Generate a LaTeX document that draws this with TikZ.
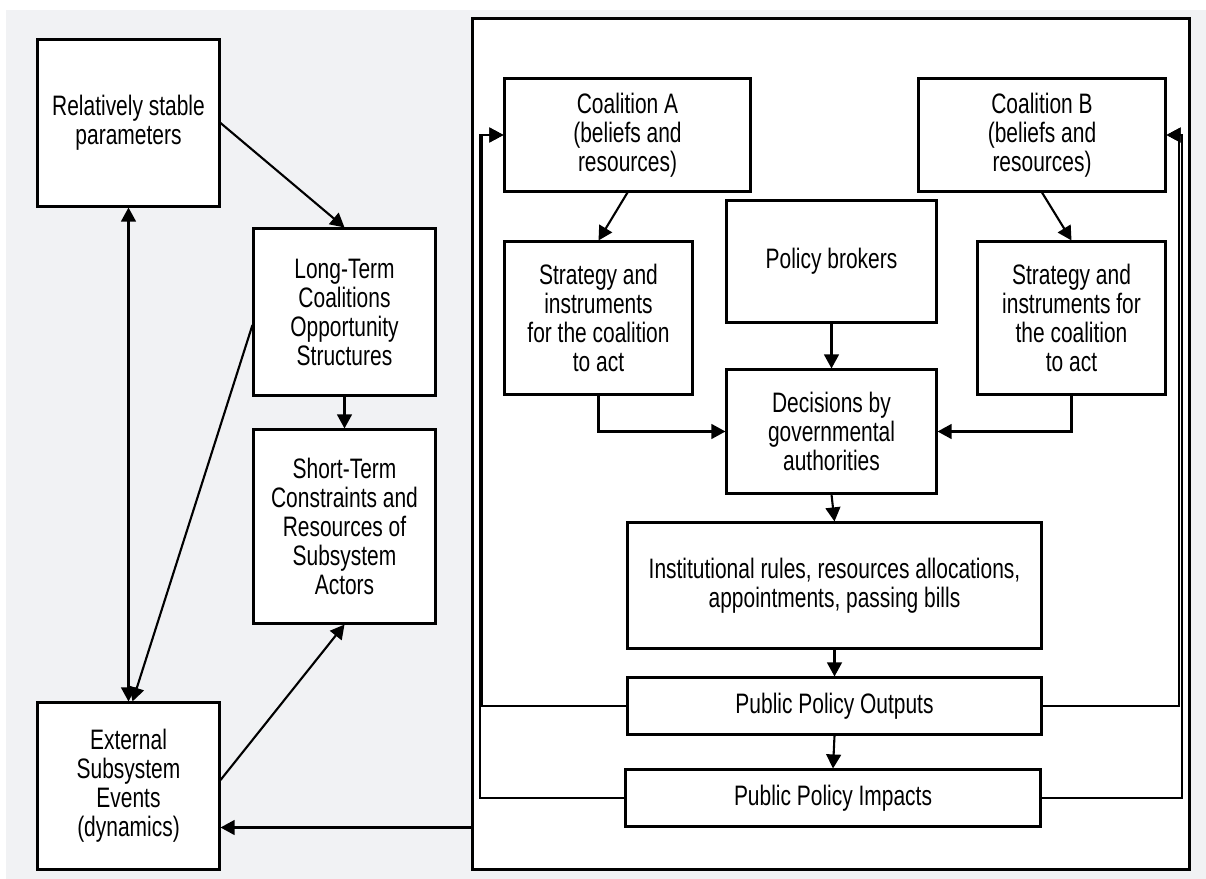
\documentclass[tikz,border=0pt]{standalone}
\usepackage{fontspec}
\setmainfont{Liberation Sans}[FakeStretch=0.745]
\definecolor{panelgray}{RGB}{241,242,244}
\usetikzlibrary{arrows.meta}
\usetikzlibrary{calc}

\begin{document}
\begin{tikzpicture}[x=0.01cm, y=-0.01cm]
  \tikzset{
    box/.style = {draw, line width=.85pt, fill=white, align=center, inner sep=0pt, font=\fontsize{8}{8.25}\selectfont},
    arr/.style = {-{Triangle[length=4pt,width=4.2pt]}, line width=.6pt},
    arrboth/.style = {{Triangle[length=4pt,width=4.2pt]}-{Triangle[length=4pt,width=4.2pt]}, line width=.6pt},
    fbarr/.style = {-{Triangle[length=4pt,width=4.2pt]}, line width=.45pt}
  }

  \useasboundingbox (0,0) rectangle (1206,879);
  \fill[panelgray] (6,10) rectangle (1206,879);

  \node[box, minimum width=1.81cm, minimum height=1.66cm] (stable) at (128.5,123) {Relatively stable\\parameters};
  \node[box, minimum width=1.81cm, minimum height=1.66cm] (longterm) at (344.5,312) {Long-Term\\Coalitions\\Opportunity\\Structures};
  \node[box, minimum width=1.81cm, minimum height=1.93cm] (shortterm) at (344.5,526.5) {Short-Term\\Constraints and\\Resources of\\Subsystem\\Actors};
  \node[box, minimum width=1.81cm, minimum height=1.66cm] (external) at (128.5,786) {External\\Subsystem\\Events\\(dynamics)};

  \node[box, minimum width=7.16cm, minimum height=8.5cm] (subsys) at (831,444) {};

  \node[box, minimum width=2.45cm, minimum height=1.12cm] (coalA) at (627.5,135) {Coalition A\\(beliefs and\\resources)};
  \node[box, minimum width=2.46cm, minimum height=1.12cm] (coalB) at (1042,135) {Coalition B\\(beliefs and\\resources)};
  \node[box, minimum width=1.87cm, minimum height=1.52cm] (stratA) at (598.5,318) {Strategy and\\instruments\\for the coalition\\to act};
  \node[box, minimum width=2.09cm, minimum height=1.21cm] (brokers) at (831.5,261.5) {Policy brokers};
  \node[box, minimum width=1.87cm, minimum height=1.52cm] (stratB) at (1071.5,318) {Strategy and\\instruments for\\the coalition\\to act};
  \node[box, minimum width=2.09cm, minimum height=1.23cm] (decisions) at (831.5,431.5) {Decisions by\\governmental\\authorities};
  \node[box, minimum width=4.13cm, minimum height=1.25cm] (rules) at (834.5,585.5) {Institutional rules, resources allocations,\\appointments, passing bills};
  \node[box, minimum width=4.13cm, minimum height=.56cm] (outputs) at (834.5,706) {Public Policy Outputs};
  \node[box, minimum width=4.14cm, minimum height=.56cm] (impacts) at (833,798) {Public Policy Impacts};

  \draw[arr] (stable.east) -- (longterm.north);
  \draw[arr] (longterm.south) -- (shortterm.north);
  \draw[arrboth] (stable.south) -- (external.north);
  \draw[arr] ($(longterm.west)+(0,13)$) -- ($(external.north)+(4,0)$);
  \draw[arr] ($(external.east)+(0,-6)$) -- (shortterm.south);
  \draw[arr] (subsys.west |- impacts.south) -- (external.east |- impacts.south);

  \draw[arr] (coalA.south) -- (stratA.north);
  \draw[arr] (coalB.south) -- (stratB.north);
  \draw[arr] (brokers.south) -- (decisions.north);
  \draw[arr] (stratA.south) |- (decisions.west);
  \draw[arr] (stratB.south) |- (decisions.east);
  \draw[arr] (decisions.south) -- (rules.north);
  \draw[arr] (rules.south) -- (outputs.north);
  \draw[arr] (outputs.south) -- (impacts.north);

  \draw[fbarr] (outputs.west) -- (482,706) |- (coalA.west);
  \draw[fbarr] (impacts.west) -- (480,798) |- (coalA.west);
  \draw[fbarr] (outputs.east) -- (1179,706) |- (coalB.east);
  \draw[fbarr] (impacts.east) -- (1182,798) |- (coalB.east);
\end{tikzpicture}
\end{document}
